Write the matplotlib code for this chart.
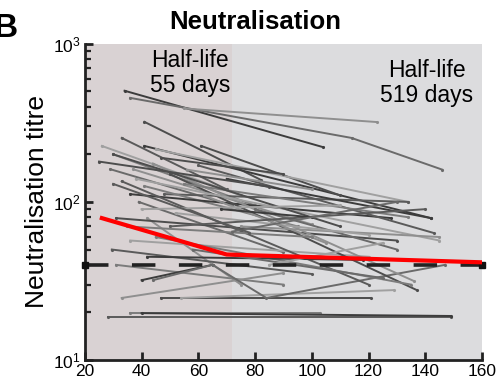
import numpy as np
import matplotlib
matplotlib.use("Agg")
import matplotlib.pyplot as plt
from matplotlib.ticker import LogLocator, FixedLocator

plt.rcParams["font.family"] = ["Liberation Sans", "DejaVu Sans"]
plt.rcParams["mathtext.fontset"] = "custom"
plt.rcParams["mathtext.rm"] = "Liberation Sans"
plt.rcParams["mathtext.default"] = "regular"

# Individual participant trajectories (days since symptom onset, titre)
traj_x = [
    [34, 104], [36, 114, 146], [55, 123], [41, 82], [26, 75], [33, 70],
    [30, 80], [41, 142], [29, 72], [37, 100], [61, 110], [45, 134],
    [48, 134], [41, 95], [36, 128], [39, 90], [42, 75], [31, 130],
    [36, 120], [29.5, 100], [31, 90], [40, 65], [44, 65], [33, 90],
    [47, 121], [54, 129], [28, 149], [36, 103], [40, 149], [65, 84, 147],
    [44, 136], [50, 137], [38, 145], [60, 143], [55, 134], [70, 142],
    [80, 130], [75, 145], [30, 110], [52, 120], [33, 120], [45, 135],
    [42, 118], [58, 125], [62, 105], [25, 85], [40, 110], [50, 140],
    [35, 100], [68, 100], [72, 130], [56, 100], [47, 90], [85, 125],
    [30, 78],
]
traj_y = [
    [505, 222], [455, 254, 160], [390, 320], [321, 138], [226, 110], [254, 120],
    [200, 95], [226, 79], [161, 95], [161, 72], [226, 110], [215, 100],
    [112, 100], [126, 70], [112, 79], [100, 48], [79, 30], [79, 57],
    [57, 45], [50, 35], [40, 30], [32, 40], [32, 40], [24.7, 35.5],
    [24.7, 24.7], [24.7, 27.7], [18.7, 18.7], [19.8, 19.8], [19.8, 19.0], [40, 24.7, 40],
    [175, 31.6], [150, 27.7], [140, 57], [170, 63.6], [130, 80], [140, 79],
    [90, 50], [70, 60], [200, 70], [85, 62], [135, 30], [60, 30],
    [45, 43], [50, 33], [110, 55], [180, 125], [90, 95], [70, 90],
    [70, 60], [90, 80], [65, 100], [160, 120], [190, 150], [40, 55],
    [130, 64],
]

# Model fit (two-phase decay)
fit_x = [26, 70, 160]
fit_y = [79, 46.5, 41.5]

threshold = 40
breakpoint = 72
halflife_labels = ["Half-life\n55 days", "Half-life\n519 days"]

greys = ["#3c3c3c", "#6a6a6a", "#8f8f8f", "#4d4d4d", "#a0a0a0", "#5a5a5a", "#7c7c7c"]

fig = plt.figure(figsize=(4.99, 3.81), dpi=100)
ax = fig.add_axes([0.170, 0.055, 0.796, 0.830])

ax.axvspan(20, breakpoint, color="#d9d2d3", zorder=0, lw=0)
ax.axvspan(breakpoint, 160, color="#dcdcde", zorder=0, lw=0)

for i, (xs, ys) in enumerate(zip(traj_x, traj_y)):
    ax.plot(xs, ys, color=greys[i % len(greys)], lw=1.4, marker=".",
            markersize=2.5, zorder=2)

ax.plot([20, 160], [threshold, threshold], color="#222222", lw=2.6,
        dashes=(6.5, 6.5), zorder=3)
ax.plot([20, 160], [threshold, threshold], ls="none", marker="s",
        color="#111111", markersize=4, zorder=3, clip_on=False)
ax.plot(fit_x, fit_y, color="#ff0000", lw=3.0, zorder=4)

ax.set_yscale("log")
ax.set_xlim(20, 160)
ax.set_ylim(10, 1000)
ax.set_xticks(range(20, 161, 20))
ax.yaxis.set_major_locator(FixedLocator([10, 100, 1000]))
ax.yaxis.set_minor_locator(LogLocator(base=10, subs=np.arange(2, 10)))
ax.yaxis.set_minor_formatter(matplotlib.ticker.NullFormatter())

for s in ["top", "right"]:
    ax.spines[s].set_visible(False)
for s in ["left", "bottom"]:
    ax.spines[s].set_linewidth(2.0)
    ax.spines[s].set_color("#222222")

ax.tick_params(which="major", direction="in", length=6, width=2, color="#222222",
               labelsize=12.5, pad=3)
ax.tick_params(which="minor", direction="in", length=4, width=1.6, color="#222222")
ax.tick_params(axis="x", which="minor", length=0)

ax.set_ylabel("Neutralisation titre", fontsize=19, labelpad=3)

ax.text(57, 930, halflife_labels[0], ha="center", va="top", fontsize=16.5,
        linespacing=1.1, zorder=5)
ax.text(140.5, 800, halflife_labels[1], ha="center", va="top", fontsize=16.5,
        linespacing=1.1, zorder=5)

fig.text(0.512, 0.912, "Neutralisation", ha="center", va="bottom",
         fontsize=18.5, fontweight="bold")
fig.text(-0.012, 0.885, "B", ha="left", va="bottom", fontsize=24,
         fontweight="bold")

fig.savefig("out.png", dpi=100)
